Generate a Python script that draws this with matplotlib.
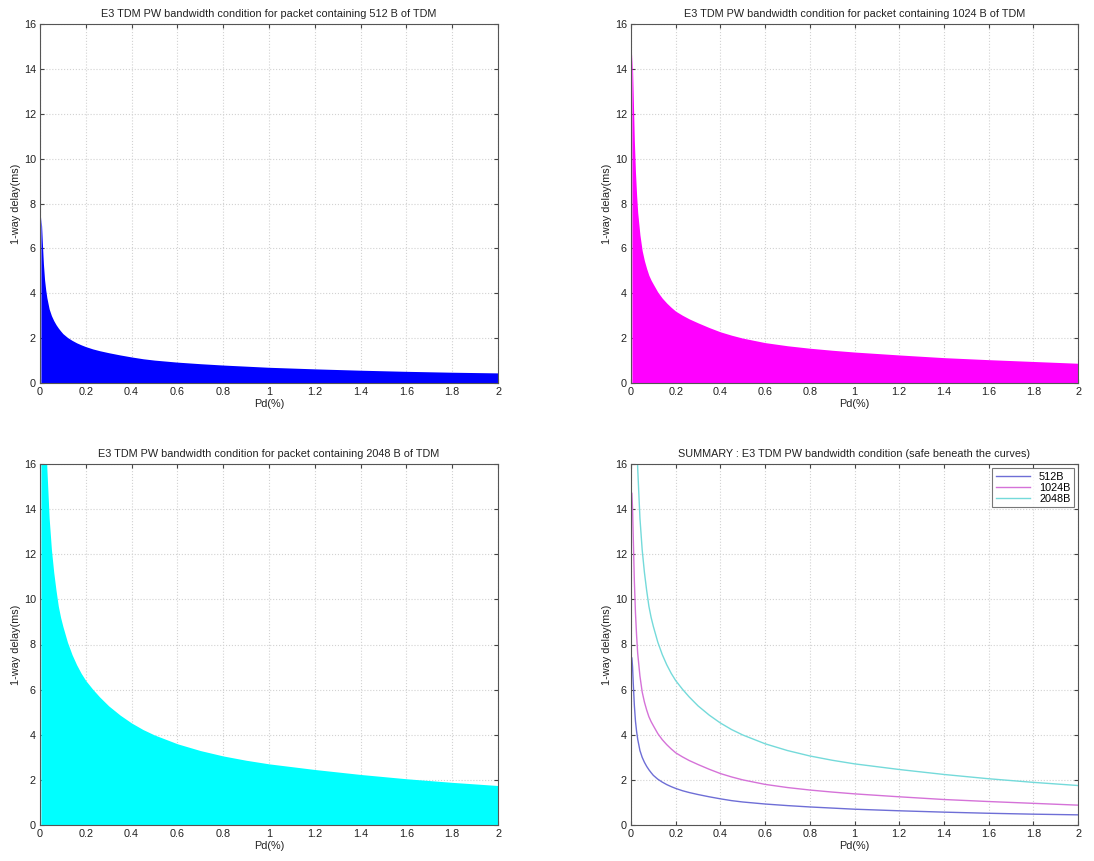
import matplotlib
matplotlib.use('Agg')
import matplotlib.pyplot as plt

# Pd(%) sample points
pd_pct = [0.004, 0.007, 0.01, 0.015, 0.02, 0.025, 0.03, 0.04, 0.05, 0.06, 0.07, 0.08,
          0.09, 0.1, 0.12, 0.14, 0.16, 0.18, 0.2, 0.23, 0.26, 0.3, 0.35, 0.4,
          0.45, 0.5, 0.6, 0.7, 0.8, 0.9, 1.0, 1.2, 1.4, 1.6, 1.8, 2.0]

# 1-way delay (ms) for each packet size
delay_512 = [7.4, 7.0, 6.3, 5.3, 4.6, 4.15, 3.8, 3.3, 3.0, 2.78, 2.6, 2.45,
             2.32, 2.2, 2.03, 1.9, 1.79, 1.7, 1.62, 1.52, 1.44, 1.35, 1.25, 1.16,
             1.08, 1.02, 0.93, 0.86, 0.8, 0.75, 0.7, 0.63, 0.57, 0.52, 0.48, 0.45]
delay_1024 = [14.7, 14.0, 12.8, 10.8, 9.4, 8.4, 7.6, 6.6, 5.9, 5.45, 5.1, 4.8,
              4.58, 4.4, 4.05, 3.78, 3.56, 3.37, 3.2, 3.02, 2.86, 2.68, 2.47, 2.28,
              2.13, 2.0, 1.8, 1.66, 1.55, 1.46, 1.38, 1.25, 1.13, 1.04, 0.96, 0.88]
delay_2048 = [29.0, 27.0, 25.0, 21.5, 19.0, 17.2, 15.8, 13.6, 12.2, 11.2, 10.4, 9.7,
              9.2, 8.8, 8.1, 7.55, 7.1, 6.72, 6.4, 6.02, 5.68, 5.28, 4.87, 4.52,
              4.23, 3.99, 3.6, 3.3, 3.06, 2.87, 2.71, 2.46, 2.24, 2.05, 1.89, 1.75]

sizes = ['512', '1024', '2048']
fill_colors = ['#0000ff', '#ff00ff', '#00ffff']
line_colors = ['#6e6ed6', '#d572d8', '#74dada']
delays = [delay_512, delay_1024, delay_2048]

plt.rcParams['font.family'] = ['Liberation Sans', 'DejaVu Sans']
plt.rcParams['font.size'] = 7.8

fig = plt.figure(figsize=(10.94, 8.61), dpi=100)
W, H = 1094.0, 861.0
# axes boxes in pixel coordinates (left, top, right, bottom)
boxes = [(40, 24, 498, 383), (631, 24, 1078, 383),
         (40, 464, 498, 825), (631, 464, 1078, 825)]
axes = [fig.add_axes([l / W, 1 - b / H, (r - l) / W, (b - t) / H]) for l, t, r, b in boxes]


def style_ax(ax, title):
    ax.set_xlim(0, 2)
    ax.set_ylim(0, 16)
    ax.set_xticks([0, 0.2, 0.4, 0.6, 0.8, 1, 1.2, 1.4, 1.6, 1.8, 2])
    ax.set_xticklabels(['0', '0.2', '0.4', '0.6', '0.8', '1', '1.2', '1.4', '1.6', '1.8', '2'])
    ax.set_yticks(range(0, 17, 2))
    ax.grid(True, color='#d2d2d2', linestyle=':', linewidth=0.8, zorder=0)
    ax.set_axisbelow(True)
    ax.tick_params(direction='in', top=True, right=True, length=3, colors='#444444',
                   labelcolor='#222222', pad=3)
    for s in ax.spines.values():
        s.set_color('#555555')
        s.set_linewidth(0.8)
    ax.set_title(title, fontsize=7.8, color='#222222', pad=5)
    ax.set_xlabel('Pd(%)', color='#222222', labelpad=1)
    ax.set_ylabel('1-way delay(ms)', color='#222222', labelpad=2)


for ax, sz, col, d in zip(axes[:3], sizes, fill_colors, delays):
    ax.fill_between(pd_pct, d, 0, color=col, linewidth=0, zorder=1)
    style_ax(ax, 'E3 TDM PW bandwidth condition for packet containing %s B of TDM' % sz)

ax = axes[3]
for sz, col, d in zip(sizes, line_colors, delays):
    ax.plot(pd_pct, d, color=col, linewidth=1.0, label=sz + 'B')
style_ax(ax, 'SUMMARY : E3 TDM PW bandwidth condition (safe beneath the curves)')
leg = ax.legend(loc='upper right', fontsize=7.8, frameon=True, fancybox=False,
                borderaxespad=0.4, handlelength=3.2, labelspacing=0.1, borderpad=0.3)
leg.get_frame().set_edgecolor('#555555')
leg.get_frame().set_linewidth(0.8)

fig.savefig('out.png', dpi=100)
